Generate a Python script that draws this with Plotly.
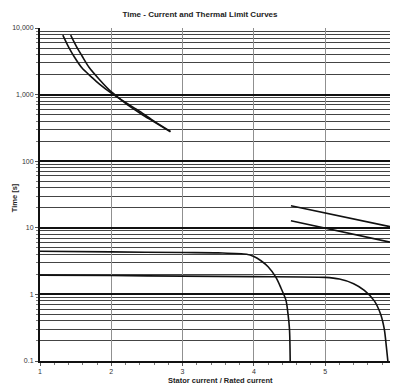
import plotly.graph_objects as go

# Thermal limit curves (upper left)
thermal_a_x = [1.32, 1.40, 1.48, 1.59, 1.72, 1.83, 2.0, 2.2, 2.4, 2.6, 2.83]
thermal_a_y = [7800, 5200, 3700, 2500, 1850, 1450, 1050, 760, 560, 400, 280]
thermal_b_x = [1.43, 1.51, 1.59, 1.69, 1.83, 1.97, 2.05, 2.2, 2.4, 2.6, 2.83]
thermal_b_y = [7800, 5300, 3800, 2550, 1700, 1180, 1000, 740, 530, 390, 275]

# Straight limit lines (right)
upper_line_x = [4.52, 5.91]
upper_line_y = [21.5, 10.4]
lower_line_x = [4.52, 5.91]
lower_line_y = [12.8, 6.1]

# Time-current curves (bottom)
curve_c_x = [1.0, 2.0, 3.0, 3.5, 3.9, 4.0, 4.1, 4.2, 4.31, 4.38, 4.45, 4.48, 4.5, 4.51]
curve_c_y = [4.45, 4.35, 4.25, 4.2, 4.0, 3.7, 3.2, 2.6, 1.8, 1.25, 0.82, 0.5, 0.3, 0.1]
curve_d_x = [1.0, 2.0, 3.0, 4.0, 5.0, 5.2, 5.4, 5.55, 5.69, 5.78, 5.83, 5.86, 5.88]
curve_d_y = [1.95, 1.92, 1.88, 1.85, 1.8, 1.7, 1.45, 1.15, 0.8, 0.5, 0.3, 0.16, 0.1]

y_tick_vals = [0.1, 1, 10, 100, 1000, 10000]
y_tick_text = ["0.1", "1", "10", "100", "1,000", "10,000"]
x_tick_vals = [1, 2, 3, 4, 5]

title_text = "Time - Current and Thermal Limit Curves"
x_title = "Stator current / Rated current"
y_title = "Time [s]"

minor_y = [m * 10 ** e for e in range(-1, 4) for m in range(2, 10)]

fig = go.Figure()
line_style = dict(color="#111111", width=1.6)
for xs, ys in [(thermal_a_x, thermal_a_y), (thermal_b_x, thermal_b_y),
               (upper_line_x, upper_line_y), (lower_line_x, lower_line_y),
               (curve_c_x, curve_c_y), (curve_d_x, curve_d_y)]:
    fig.add_trace(go.Scatter(x=xs, y=ys, mode="lines", line=dict(shape="spline", smoothing=0.8, **line_style),
                             showlegend=False, hoverinfo="skip"))

# The page adds an 8px body margin, so the figure is laid out 8px up/left.
W, H = 382, 379
font_family = "Liberation Sans, Arial, sans-serif"
fig.update_layout(
    width=W, height=H,
    margin=dict(l=32, r=0, t=20, b=26, autoexpand=False),
    paper_bgcolor="white", plot_bgcolor="white",
    font=dict(family=font_family, size=7, color="#333333"),
    title=dict(text="<b>" + title_text + "</b>", x=(200 - 8) / W, xref="container", xanchor="center",
               y=1 - 6 / H, yref="container", yanchor="middle",
               font=dict(size=8, color="#222222", family=font_family)),
    xaxis=dict(range=[1, 5.91], tickvals=x_tick_vals, showgrid=True, gridcolor="#909090", gridwidth=1,
               zeroline=False, showline=True, linecolor="#111111", linewidth=2,
               ticks="outside", ticklen=3, tickcolor="#555555", automargin=False,
               minor=dict(dtick=0.2, ticks="outside", ticklen=2, tickcolor="#777777", showgrid=False)),
    yaxis=dict(type="log", range=[-1, 4], tickvals=y_tick_vals, ticktext=y_tick_text,
               showgrid=True, gridcolor="#111111", gridwidth=2, automargin=False,
               zeroline=False, showline=True, linecolor="#111111", linewidth=2,
               ticks="outside", ticklen=3, tickcolor="#555555",
               minor=dict(tickvals=minor_y, showgrid=True, gridcolor="#444444", gridwidth=1,
                          ticks="outside", ticklen=2, tickcolor="#777777")),
    annotations=[
        dict(text="<b>" + x_title + "</b>", x=0.515, y=-0.06, xref="paper", yref="paper",
             showarrow=False, xanchor="center", yanchor="middle",
             font=dict(size=7.5, color="#222222", family=font_family)),
        dict(text="<b>" + y_title + "</b>", x=-0.073, y=0.49, xref="paper", yref="paper",
             showarrow=False, textangle=-90, xanchor="center", yanchor="middle",
             font=dict(size=7.5, color="#222222", family=font_family)),
    ],
)

fig.write_html("out.html")
